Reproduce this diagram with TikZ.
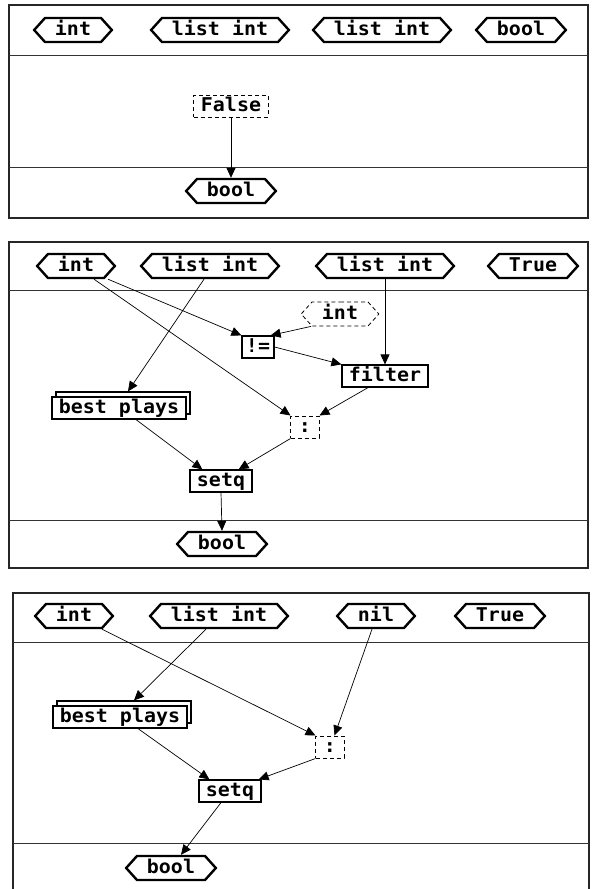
\documentclass[tikz,border=0pt]{standalone}
\usepackage{fontspec}
\newfontfamily\pxfont[FakeStretch=1.05]{DejaVu Sans Mono}
\usetikzlibrary{shapes.symbols,arrows.meta,shadows}
\tikzset{
  lbl/.style={font=\pxfont\bfseries\fontsize{19}{19}\selectfont, text height=14.5pt, text depth=4pt},
  hexn/.style={lbl, signal, signal to=east and west, signal pointer angle=96, draw, line width=2.4pt, inner xsep=10pt, inner ysep=0pt, minimum height=24pt},
  dhexn/.style={hexn, line width=0.8pt, dash pattern=on 4pt off 3pt},
  opbox/.style={lbl, rectangle, draw, fill=white, line width=1.2pt, inner xsep=7pt, inner ysep=1pt, minimum height=22pt},
  dbox/.style={opbox, line width=1pt, dash pattern=on 4pt off 3pt},
  fnbox/.style={opbox, copy shadow={shadow xshift=4pt, shadow yshift=5pt}},
  conn/.style={-{Triangle[length=10pt,width=9pt]}, line width=0.7pt},
  frame/.style={line width=1.5pt, draw=black!85},
  divider/.style={line width=0.9pt, draw=black!80}
}
\begin{document}
\begin{tikzpicture}[x=1pt,y=-1pt]
\useasboundingbox (0,0) rectangle (592,889);
\fill[white] (0,0) rectangle (592,889);
% ---------- panel 1 ----------
\draw[frame] (9,5) rectangle (588,218);
\draw[divider] (9,55) -- (588,55);
\draw[divider] (9,167) -- (588,167);
\node[hexn] (p1int) at (73,30) {int};
\node[hexn] (p1la) at (220,30) {list int};
\node[hexn] (p1lb) at (382,30) {list int};
\node[hexn] (p1bool) at (521,30) {bool};
\node[dbox] (p1false) at (231,106) {False};
\node[hexn] (p1out) at (231,191) {bool};
\draw[conn] (p1false.south) -- (p1out.north);
% ---------- panel 2 ----------
\draw[frame] (9,242) rectangle (588,568);
\draw[divider] (9,290) -- (588,290);
\draw[divider] (9,520) -- (588,520);
\node[hexn] (p2int) at (76,266) {int};
\node[hexn] (p2la) at (210,266) {list int};
\node[hexn] (p2lb) at (385,266) {list int};
\node[hexn] (p2true) at (533,266) {True};
\node[dhexn] (p2kint) at (340,314) {int};
\node[opbox, inner xsep=4pt] (p2neq) at (258,347) {!=};
\node[opbox] (p2filter) at (385,376) {filter};
\node[fnbox] (p2best) at (119,408) {best plays};
\node[dbox, inner xsep=8pt] (p2cons) at (305,427) {:};
\node[opbox] (p2setq) at (221,481) {setq};
\node[hexn] (p2out) at (222,544) {bool};
\draw[conn] ([xshift=32pt]p2int.south) -- (p2neq.north west);
\draw[conn] ([xshift=18pt]p2int.south) -- (p2cons.north west);
\draw[conn] ([xshift=-6pt]p2la.south) -- ([xshift=9pt,yshift=5pt]p2best.north);
\draw[conn] (p2lb.south) -- (p2filter.north);
\draw[conn] ([xshift=-29pt]p2kint.south) -- ([xshift=-4pt]p2neq.north east);
\draw[conn] (p2neq.east) -- (p2filter.north west);
\draw[conn] ([xshift=-17pt]p2filter.south) -- (p2cons.north east);
\draw[conn] ([xshift=17pt]p2best.south) -- ([xshift=13pt]p2setq.north west);
\draw[conn] (p2cons.south west) -- ([xshift=-14pt]p2setq.north east);
\draw[conn] (p2setq.south) -- (p2out.north);
% ---------- panel 3 ----------
\draw[frame] (13,889) -- (13,593) -- (589,593) -- (589,889);
\draw[divider] (13,642) -- (589,642);
\draw[divider] (13,843) -- (589,843);
\node[hexn] (p3int) at (74,616) {int};
\node[hexn] (p3la) at (219,616) {list int};
\node[hexn] (p3nil) at (376,616) {nil};
\node[hexn] (p3true) at (500,616) {True};
\node[fnbox] (p3best) at (120,717) {best plays};
\node[dbox, inner xsep=8pt] (p3cons) at (330,747) {:};
\node[opbox] (p3setq) at (230,791) {setq};
\node[hexn] (p3out) at (171,868) {bool};
\draw[conn] ([xshift=28pt]p3int.south) -- (p3cons.north west);
\draw[conn] ([xshift=-13pt]p3la.south) -- ([xshift=14pt,yshift=5pt]p3best.north);
\draw[conn] ([xshift=-4pt]p3nil.south) -- ([xshift=-10pt]p3cons.north east);
\draw[conn] ([xshift=18pt]p3best.south) -- ([xshift=11pt]p3setq.north west);
\draw[conn] (p3cons.south west) -- ([xshift=-3pt]p3setq.north east);
\draw[conn] ([xshift=-9pt]p3setq.south) -- ([xshift=10pt]p3out.north);
\end{tikzpicture}
\end{document}
